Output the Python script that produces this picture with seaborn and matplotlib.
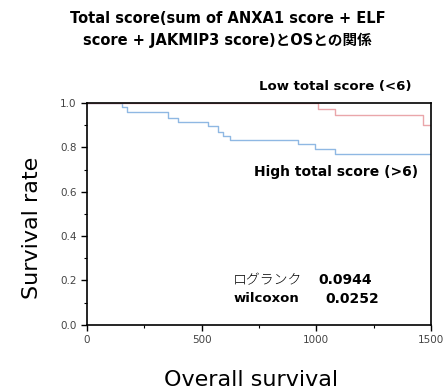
import matplotlib
matplotlib.use("Agg")
import matplotlib.pyplot as plt
from matplotlib.ticker import MultipleLocator, FormatStrFormatter
import pandas as pd
import seaborn as sns

# Kaplan-Meier steps
high_t = [0, 151, 173, 355, 398, 529, 573, 595, 624, 921, 994, 1081, 1500]
high_s = [1.0, 0.98, 0.958, 0.934, 0.916, 0.898, 0.867, 0.852, 0.835, 0.815, 0.793, 0.77, 0.77]
low_t = [0, 1009, 1081, 1467, 1500]
low_s = [1.0, 0.973, 0.946, 0.90, 0.90]

groups = ["High total score (>6)", "Low total score (<6)"]
colors = {"High total score (>6)": "#8fb8e3", "Low total score (<6)": "#eaa6aa"}

title_lines = ["Total score(sum of ANXA1 score + ELF", "score + JAKMIP3 score)とOSとの関係"]
logrank_p = "0.0944"
wilcoxon_p = "0.0252"

df = pd.concat([
    pd.DataFrame({"time": high_t, "surv": high_s, "group": groups[0]}),
    pd.DataFrame({"time": low_t, "surv": low_s, "group": groups[1]}),
])

sns.set_theme(style="white")
plt.rcParams["font.family"] = ["DejaVu Sans", "Noto Sans CJK JP"]
plt.rcParams["text.color"] = "black"
plt.rcParams["axes.labelcolor"] = "black"

fig = plt.figure(figsize=(4.46, 3.9), dpi=100)
ax = fig.add_axes([0.195, 0.167, 0.771, 0.569])

sns.lineplot(data=df, x="time", y="surv", hue="group", palette=colors,
             drawstyle="steps-post", estimator=None, legend=False,
             linewidth=1.0, ax=ax)

ax.set_xlim(0, 1500)
ax.set_ylim(0, 1.0)
ax.xaxis.set_major_locator(MultipleLocator(500))
ax.xaxis.set_minor_locator(MultipleLocator(250))
ax.yaxis.set_major_locator(MultipleLocator(0.2))
ax.yaxis.set_minor_locator(MultipleLocator(0.1))
ax.yaxis.set_major_formatter(FormatStrFormatter("%.1f"))
ax.tick_params(which="major", direction="out", length=4, width=1, colors="black",
               labelsize=7.5, labelcolor="#444444", left=True, bottom=True)
ax.tick_params(which="minor", direction="out", length=2.5, width=0.8, colors="black",
               left=True, bottom=True)
for s in ax.spines.values():
    s.set_color("black")
    s.set_linewidth(1.2)

ax.set_xlabel("Overall survival", fontsize=16)
ax.set_ylabel("Survival rate", fontsize=16)
ax.xaxis.set_label_coords(0.477, -0.205)
ax.yaxis.set_label_coords(-0.131, 0.437)

fig.text(0.51, 0.953, title_lines[0], ha="center", va="center", fontsize=10.5, fontweight="bold")
fig.text(0.51, 0.897, title_lines[1], ha="center", va="center", fontsize=10.5, fontweight="bold")

ax.text(0.945, 1.072, groups[1], transform=ax.transAxes, ha="right", va="center",
        fontsize=9.5, fontweight="bold")
ax.text(0.962, 0.69, groups[0], transform=ax.transAxes, ha="right", va="center",
        fontsize=10, fontweight="bold")

ax.text(0.425, 0.203, "ログランク", transform=ax.transAxes, ha="left", va="center", fontsize=10,
        fontweight="light")
ax.text(0.672, 0.203, logrank_p, transform=ax.transAxes, ha="left", va="center", fontsize=10,
        fontweight="bold")
ax.text(0.425, 0.117, "wilcoxon", transform=ax.transAxes, ha="left", va="center", fontsize=9.5,
        fontweight="bold")
ax.text(0.692, 0.117, wilcoxon_p, transform=ax.transAxes, ha="left", va="center", fontsize=10,
        fontweight="bold")

fig.savefig("out.png", dpi=100)
